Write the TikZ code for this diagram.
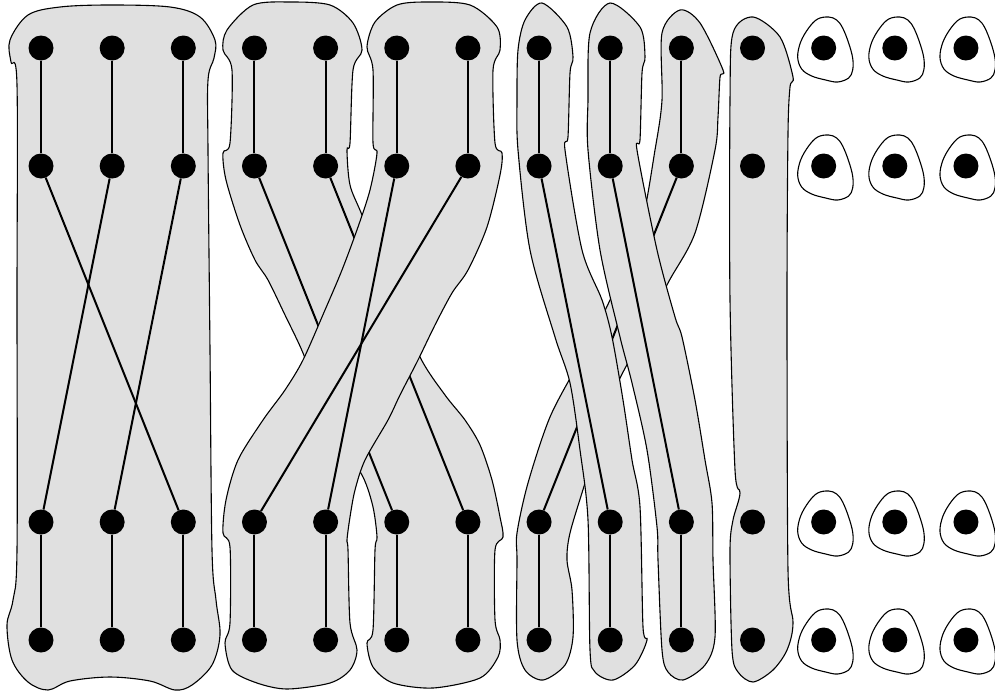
\documentclass[tikz,border=0pt]{standalone}
\definecolor{blobgray}{RGB}{224,224,224}
\begin{document}
\begin{tikzpicture}[x=1pt,y=-1pt,
  blob/.style={draw=black,line width=1.1pt,fill=blobgray},
  hole/.style={draw=black,line width=1.1pt,fill=white},
  dot/.style={circle,fill=black,inner sep=0pt,minimum size=25pt},
  link/.style={line width=2pt}]
\useasboundingbox (0,0) rectangle (995,696);
\fill[white] (0,0) rectangle (995,696);
% ---------- group 1 ----------
\draw[blob] plot[smooth cycle,tension=0.55] coordinates {
 (10,40) (28,15) (60,7) (110,5) (170,7) (200,17) (215,40) (214,58) (208,80) (208,150)
 (210,350) (212,550) (216,600) (220,635) (212,665) (192,685) (175,690) (150,681) (110,677)
 (70,681) (48,690) (28,682) (12,660) (7,625) (13,600) (17,550) (17,300) (17,85) (11,62)};
\foreach \c in {0,1,2} \foreach \r/\y in {0/48,1/166,2/522,3/640}
  \node[dot] (n-\c-\r) at ({41+71.15*\c},\y) {};
\foreach \c in {0,1,2} {
  \draw[link] (n-\c-0) -- (n-\c-1);
  \draw[link] (n-\c-2) -- (n-\c-3);}
\draw[link] (n-0-1) -- (n-2-2);
\draw[link] (n-1-1) -- (n-0-2);
\draw[link] (n-2-1) -- (n-1-2);
% ---------- blob A (back) ----------
\draw[blob] plot[smooth cycle,tension=0.5] coordinates {
 (223,50) (227,30) (253,5) (290,2) (330,5) (353,23) (362,50) (353,70) (350,143) (347,150)
 (350,185) (362,215) (390,285) (420,357) (445,395) (465,420) (480,445) (492,480) (500,517)
 (503,537) (495,550) (495,620) (500,640) (498,657) (480,678) (433,688) (393,683) (373,667)
 (367,643) (373,630) (375,550) (377,537) (373,507) (363,477) (340,440) (320,400) (303,353)
 (285,315) (268,280) (255,260) (240,225) (226,180) (223,153) (230,143) (232,70)};
\foreach \c/\r/\y in {3/0/48,3/1/166,4/0/48,4/1/166,5/2/522,5/3/640,6/2/522,6/3/640}
  \node[dot] (n-\c-\r) at ({41+71.15*\c},\y) {};
\draw[link] (n-3-0) -- (n-3-1);
\draw[link] (n-4-0) -- (n-4-1);
\draw[link] (n-3-1) -- (n-5-2);
\draw[link] (n-4-1) -- (n-6-2);
\draw[link] (n-5-2) -- (n-5-3);
\draw[link] (n-6-2) -- (n-6-3);
% ---------- blob B (front) ----------
\draw[blob] plot[smooth cycle,tension=0.5] coordinates {
 (367,47) (375,22) (397,5) (427,2) (470,5) (497,27) (500,50) (493,70) (495,143) (502,153)
 (500,175) (487,227) (468,270) (452,293) (435,325) (418,360) (400,395) (388,420) (365,460)
 (355,490) (350,517) (347,540) (348,550) (350,623) (357,650) (350,670) (330,683) (287,689)
 (257,683) (232,670) (225,643) (230,623) (230,547) (223,533) (226,500) (238,460) (263,420)
 (285,390) (303,360) (325,310) (342,270) (358,227) (370,190) (377,153) (373,143) (373,70)};
\foreach \c/\r/\y in {5/0/48,5/1/166,6/0/48,6/1/166,3/2/522,3/3/640,4/2/522,4/3/640}
  \node[dot] (n-\c-\r) at ({41+71.15*\c},\y) {};
\draw[link] (n-5-0) -- (n-5-1);
\draw[link] (n-6-0) -- (n-6-1);
\draw[link] (n-5-1) -- (n-4-2);
\draw[link] (n-6-1) -- (n-3-2);
\draw[link] (n-3-2) -- (n-3-3);
\draw[link] (n-4-2) -- (n-4-3);
% ---------- blob E (back) ----------
\draw[blob] plot[smooth cycle,tension=0.5] coordinates {
 (680,10) (700,23) (723,70) (720,77) (718,117) (715,150) (695,233) (668,283) (640,340)
 (610,400) (585,483) (570,533) (567,560) (572,590) (573,637) (565,665) (543,680) (525,670)
 (517,640) (517,560) (517,533) (528,483) (550,417) (580,360) (610,300) (640,230) (655,150)
 (662,100) (662,33)};
\foreach \c/\r/\y in {9/0/48,9/1/166,7/2/522,7/3/640}
  \node[dot] (n-\c-\r) at ({41+71.15*\c},\y) {};
\draw[link] (n-9-0) -- (n-9-1);
\draw[link] (n-9-1) -- (n-7-2);
\draw[link] (n-7-2) -- (n-7-3);
% ---------- blob C ----------
\draw[blob] plot[smooth cycle,tension=0.5] coordinates {
 (542,3) (567,27) (573,57) (570,73) (568,137) (565,150) (582,250) (602,300) (612,337)
 (623,400) (632,460) (640,507) (643,627) (647,640) (635,665) (613,680) (595,672) (590,650)
 (588,520) (580,450) (570,383) (555,337) (530,250) (518,150) (517,100) (518,50) (525,20)};
\foreach \c/\r/\y in {7/0/48,7/1/166,8/2/522,8/3/640}
  \node[dot] (n-\c-\r) at ({41+71.15*\c},\y) {};
\draw[link] (n-7-0) -- (n-7-1);
\draw[link] (n-7-1) -- (n-8-2);
\draw[link] (n-8-2) -- (n-8-3);
% ---------- blob D ----------
\draw[blob] plot[smooth cycle,tension=0.5] coordinates {
 (610,3) (640,27) (645,57) (642,73) (640,140) (637,150) (657,250) (675,317) (682,337)
 (695,400) (705,460) (712,503) (713,560) (715,637) (705,665) (683,680) (668,672) (662,650)
 (658,560) (657,527) (647,450) (632,383) (620,337) (600,250) (588,150) (588,100) (590,33)};
\foreach \c/\r/\y in {8/0/48,8/1/166,9/2/522,9/3/640}
  \node[dot] (n-\c-\r) at ({41+71.15*\c},\y) {};
\draw[link] (n-8-0) -- (n-8-1);
\draw[link] (n-8-1) -- (n-9-2);
\draw[link] (n-9-2) -- (n-9-3);
% ---------- blob F ----------
\draw[blob] plot[smooth cycle,tension=0.5] coordinates {
 (753,17) (780,37) (793,77) (790,87) (788,133) (787,300) (788,570) (793,623) (787,650)
 (773,670) (753,682) (738,672) (732,650) (730,550) (733,520) (740,493) (735,470) (730,300)
 (730,100) (733,33)};
\foreach \r/\y in {0/48,1/166,2/522,3/640}
  \node[dot] (n-10-\r) at ({41+71.15*10},\y) {};
% ---------- singletons ----------
\foreach \c in {11,12,13} \foreach \r/\y in {0/48,1/166,2/522,3/640} {
  \draw[hole,shift={({41+71.15*\c},\y)}] plot[smooth cycle,tension=0.6] coordinates {
   (5,-31) (13,-28) (19,-20) (25,-5) (29,10) (29,22) (25,30) (14,34) (2,32) (-12,28)
   (-22,21) (-26,9) (-23,-6) (-15,-20) (-6,-29)};
  \node[dot] (n-\c-\r) at ({41+71.15*\c},\y) {};}
\end{tikzpicture}
\end{document}
